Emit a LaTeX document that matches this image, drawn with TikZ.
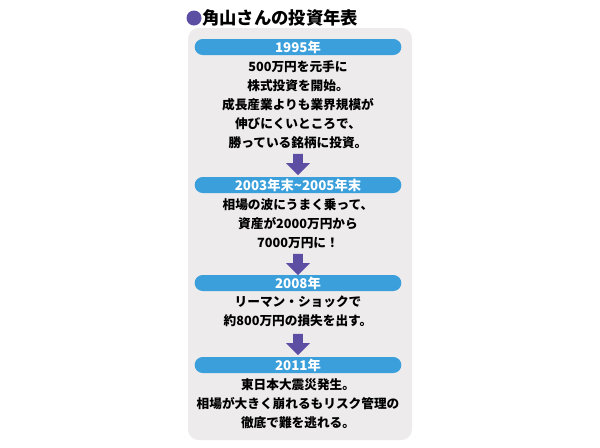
\documentclass[tikz,border=0pt]{standalone}
\usepackage{fontspec}
\newfontfamily\cjk{Noto Sans CJK JP}
\usetikzlibrary{shapes.arrows}
\definecolor{panelgray}{HTML}{EDEBEC}
\definecolor{barblue}{HTML}{3A9FDB}
\definecolor{arrowpurple}{HTML}{5B4EA3}
\begin{document}
\begin{tikzpicture}[
    x=0.75pt, y=-0.75pt,
    yearbar/.style  = {fill=barblue, rounded corners=6pt, minimum width=155pt, minimum height=12pt, inner sep=0pt, text=white, font=\cjk\bfseries\fontsize{10}{12}\selectfont},
    body/.style     = {align=center, font=\cjk\bfseries\fontsize{9.5}{14.2}\selectfont, inner sep=0pt},
    downarrow/.style= {single arrow, fill=arrowpurple, rotate=-90, minimum height=16pt, minimum width=18pt, single arrow head extend=4pt, inner sep=2.5pt},
  ]
  \useasboundingbox (0,0) rectangle (600,447);

  % Hintergrund
  \fill[panelgray, rounded corners=8pt] (188,28) rectangle (412,440);

  % Titel
  \fill[arrowpurple] (194,18) circle (7.5);
  \node (title) at (202,18) [anchor=west, inner sep=0pt, font=\cjk\bfseries\fontsize{13}{15}\selectfont] {角山さんの投資年表};

  % Jahre
  \node (Y1) at (298,47)  [yearbar] {1995年};
  \node (Y2) at (298,185) [yearbar] {2003年末\textasciitilde 2005年末};
  \node (Y3) at (298,283) [yearbar] {2008年};
  \node (Y4) at (298,365) [yearbar] {2011年};

  % Texte
  \node (T1) at (298,105) [body] {500万円を元手に\\株式投資を開始。\\成長産業よりも業界規模が\\伸びにくいところで、\\勝っている銘柄に投資。};
  \node (T2) at (298,224) [body] {相場の波にうまく乗って、\\資産が2000万円から\\7000万円に！};
  \node (T3) at (298,311) [body] {リーマン・ショックで\\約800万円の損失を出す。};
  \node (T4) at (298,404) [body] {東日本大震災発生。\\相場が大きく崩れるもリスク管理の\\徹底で難を逃れる。};

  % Pfeile
  \node (A1) at (298,162) [downarrow] {};
  \node (A2) at (298,262) [downarrow] {};
  \node (A3) at (298,342) [downarrow] {};
\end{tikzpicture}
\end{document}
